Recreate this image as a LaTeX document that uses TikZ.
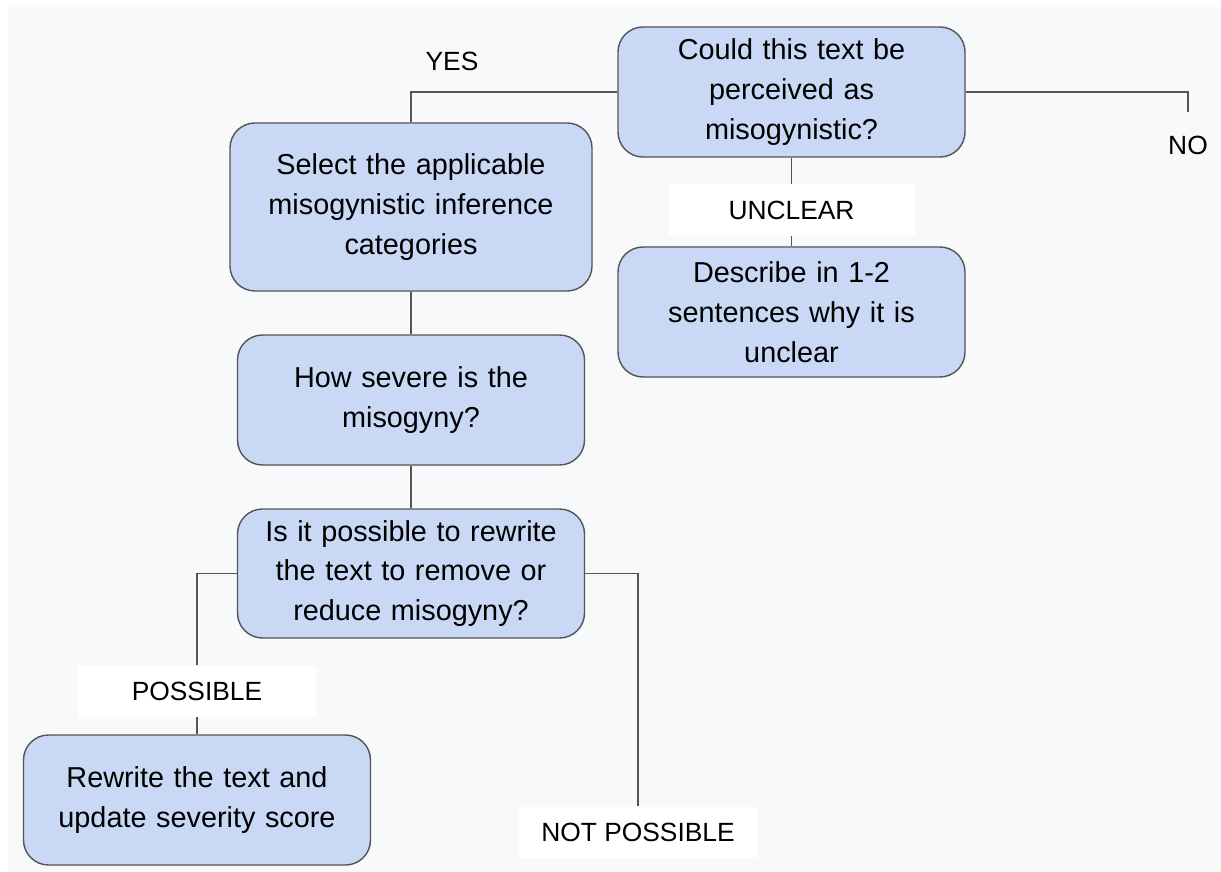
\documentclass[tikz,border=0pt]{standalone}
\usepackage{fontspec}
\setmainfont{Liberation Sans}
\definecolor{boxblue}{HTML}{C9D8F4}
\definecolor{boxline}{HTML}{555555}
\definecolor{pagebg}{HTML}{F8F9FB}
\tikzset{
  stepbox/.style={draw=boxline,fill=boxblue,rounded corners=.5cm,line width=.8pt,align=center,
    minimum width=6.94cm,minimum height=2.6cm,text width=6.6cm,font=\fontsize{16.4}{22.7}\selectfont},
  answer/.style={fill=white,minimum width=4.76cm,minimum height=1.02cm,font=\fontsize{15}{18}\selectfont},
  plain/.style={font=\fontsize{15}{18}\selectfont},
  link/.style={draw=boxline,line width=.8pt}
}
\begin{document}
\begin{tikzpicture}
\useasboundingbox(0,0)rectangle(24.42,-17.44);
\fill[pagebg](.16,-.14)rectangle(24.42,-17.44);
\node[stepbox](q1)at(15.83,-1.84){Could this text be\\perceived as\\misogynistic?};
\node[stepbox,minimum width=7.24cm,minimum height=3.36cm](sel)at(8.22,-4.14){Select the applicable\\misogynistic inference\\categories};
\node[stepbox](desc)at(15.83,-6.24){Describe in 1-2\\sentences why it is\\unclear};
\node[stepbox](sev)at(8.22,-8){How severe is the\\misogyny?};
\node[stepbox,minimum height=2.58cm](rw)at(8.22,-11.47){Is it possible to rewrite\\the text to remove or\\reduce misogyny?};
\node[stepbox](rt)at(3.94,-16){Rewrite the text and\\update severity score};
\node[answer,minimum width=4.92cm](unc)at(15.83,-4.2){UNCLEAR};
\node[answer](pos)at(3.94,-13.82){POSSIBLE};
\node[answer](np)at(12.76,-16.64){NOT POSSIBLE};
\node[plain](yes)at(9.04,-1.22){YES};
\node[plain](no)at(23.76,-2.9){NO};
\coordinate(noend)at(23.76,-2.24);
\draw[link](q1.west)-|(sel.north);
\draw[link](q1.east)-|(noend);
\draw[link](q1.south)--(unc)--(desc.north);
\draw[link](sel)--(sev);
\draw[link](sev)--(rw);
\draw[link](rw.west)-|(pos.north)(pos)--(rt);
\draw[link](rw.east)-|(np.north);
\end{tikzpicture}
\end{document}
